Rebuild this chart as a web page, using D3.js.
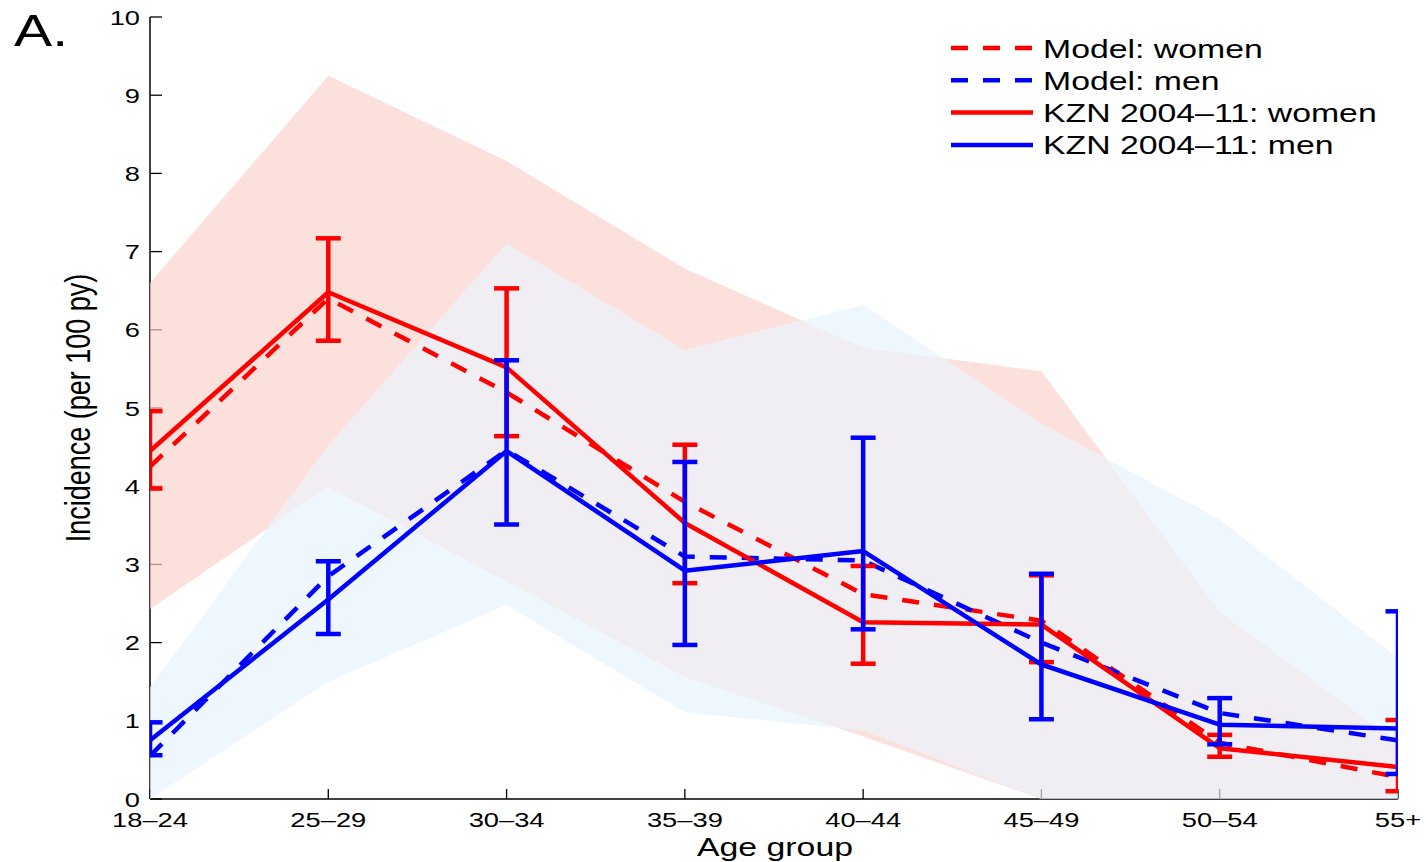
<!DOCTYPE html>
<html>
<head>
<meta charset="utf-8">
<script src="https://cdn.jsdelivr.net/npm/d3@7"></script>
<style>
  html, body { margin: 0; padding: 0; background: #fff; }
  svg { display: block; }
  text { font-family: "Liberation Sans", Arial, Helvetica, sans-serif; fill: #000; }
</style>
</head>
<body>
<svg id="chart" width="1426" height="862"></svg>
<script>
// ---------- data ----------
const categories = ["18–24","25–29","30–34","35–39","40–44","45–49","50–54","55+"];
const yTicks = [0,1,2,3,4,5,6,7,8,9,10];

// model uncertainty bands
const womenBandUpper = [6.6, 9.25, 8.16, 6.78, 5.77, 5.47, 2.39, 0.72];
const womenBandLower = [2.43, 3.99, 2.78, 1.56, 0.8, 0, 0, 0];
const menBandUpper   = [1.43, 4.52, 7.1, 5.74, 6.32, 4.8, 3.57, 1.8];
const menBandLower   = [0, 1.5, 2.48, 1.11, 0.88, 0, 0, 0];

// model central estimates
const modelWomen = [4.25, 6.4, 5.2, 3.8, 2.62, 2.28, 0.72, 0.28];
const modelMen   = [0.55, 2.85, 4.46, 3.1, 3.05, 2.0, 1.1, 0.75];

// KZN 2004-11 data with confidence intervals
const kznWomen      = [4.45, 6.48, 5.52, 3.53, 2.26, 2.23, 0.65, 0.41];
const kznWomenLow   = [3.97, 5.86, 4.64, 2.76, 1.73, 1.75, 0.54, 0.1];
const kznWomenHigh  = [4.96, 7.17, 6.53, 4.53, 2.98, 2.86, 0.82, 1.01];
const kznMen        = [0.75, 2.55, 4.45, 2.92, 3.17, 1.72, 0.95, 0.9];
const kznMenLow     = [0.56, 2.11, 3.51, 1.97, 2.17, 1.02, 0.7, 0.32];
const kznMenHigh    = [0.98, 3.04, 5.61, 4.31, 4.62, 2.88, 1.29, 2.4];

const legendItems = [
  {label: "Model: women", color: "#ff0000", dashed: true},
  {label: "Model: men", color: "#0000ff", dashed: true},
  {label: "KZN 2004–11: women", color: "#ff0000", dashed: false},
  {label: "KZN 2004–11: men", color: "#0000ff", dashed: false}
];

// ---------- layout ----------
const svg = d3.select("#chart");
const pLeft = 150, pRight = 1398, pTop = 17, pBottom = 799;
const SX = 1.3; // horizontal text stretch

const x = d3.scalePoint().domain(categories).range([pLeft, pRight]);
const y = d3.scaleLinear().domain([0, 10]).range([pBottom, pTop]);

function stext(g, tx, ty, str, size, anchor, extra) {
  return g.append("text")
    .attr("transform", `translate(${tx},${ty}) scale(${SX},1)` + (extra || ""))
    .attr("font-size", size)
    .attr("text-anchor", anchor)
    .text(str);
}

const defs = svg.append("defs");
defs.append("clipPath").attr("id", "plotClip")
  .append("rect").attr("x", pLeft).attr("y", 0).attr("width", pRight - pLeft).attr("height", pBottom);

// ---------- axes (drawn under translucent fills) ----------
const axes = svg.append("g");
axes.append("line").attr("x1", pLeft).attr("x2", pLeft).attr("y1", pTop).attr("y2", pBottom)
  .attr("stroke", "#000").attr("stroke-width", 1.5);
axes.append("line").attr("x1", pLeft).attr("x2", pRight).attr("y1", pBottom).attr("y2", pBottom)
  .attr("stroke", "#000").attr("stroke-width", 1.5);
yTicks.forEach(v => {
  axes.append("line").attr("x1", pLeft).attr("x2", pLeft + 12).attr("y1", y(v)).attr("y2", y(v))
    .attr("stroke", "#000").attr("stroke-width", 1.3);
  stext(axes, pLeft - 10, y(v) + 7.5, String(v), 21, "end");
});
categories.forEach(c => {
  axes.append("line").attr("x1", x(c)).attr("x2", x(c)).attr("y1", pBottom).attr("y2", pBottom - 10)
    .attr("stroke", "#000").attr("stroke-width", 1.3);
  stext(axes, x(c), 827, c, 21, "middle");
});

// ---------- bands ----------
const areaW = d3.area().x((d, i) => x(categories[i])).y0((d, i) => y(womenBandLower[i])).y1(d => y(d));
const areaM = d3.area().x((d, i) => x(categories[i])).y0((d, i) => y(menBandLower[i])).y1(d => y(d));

defs.append("clipPath").attr("id", "womenClip")
  .append("path").attr("d", areaW(womenBandUpper));

const bands = svg.append("g").attr("opacity", 0.7);
bands.append("path").attr("d", areaW(womenBandUpper)).attr("fill", "#fcd3ce");
bands.append("path").attr("d", areaM(menBandUpper)).attr("fill", "#e8f3fe");
bands.append("path").attr("d", areaM(menBandUpper)).attr("fill", "#ece8ef")
  .attr("clip-path", "url(#womenClip)");

// ---------- lines ----------
const plot = svg.append("g").attr("clip-path", "url(#plotClip)");
const line = d3.line().x((d, i) => x(categories[i])).y(d => y(d));

function drawLine(vals, color, dashed) {
  plot.append("path").attr("d", line(vals)).attr("fill", "none")
    .attr("stroke", color).attr("stroke-width", 4.5)
    .attr("stroke-dasharray", dashed ? "17,15" : null)
    .attr("stroke-linejoin", "round");
}
function drawErr(lo, hi, color) {
  categories.forEach((c, i) => {
    const cx = x(c);
    plot.append("line").attr("x1", cx).attr("x2", cx).attr("y1", y(lo[i])).attr("y2", y(hi[i]))
      .attr("stroke", color).attr("stroke-width", 4.5);
    [lo[i], hi[i]].forEach(v => {
      plot.append("line").attr("x1", cx - 12.5).attr("x2", cx + 12.5).attr("y1", y(v)).attr("y2", y(v))
        .attr("stroke", color).attr("stroke-width", 4.5);
    });
  });
}

drawLine(modelWomen, "#ff0000", true);
drawLine(modelMen, "#0000ff", true);
drawLine(kznWomen, "#ff0000", false);
drawErr(kznWomenLow, kznWomenHigh, "#ff0000");
drawLine(kznMen, "#0000ff", false);
drawErr(kznMenLow, kznMenHigh, "#0000ff");

// ---------- legend ----------
const lg = svg.append("g");
legendItems.forEach((it, i) => {
  const ly = 48 + i * 32.3;
  lg.append("line").attr("x1", 951).attr("x2", 1033).attr("y1", ly).attr("y2", ly)
    .attr("stroke", it.color).attr("stroke-width", 4.5)
    .attr("stroke-dasharray", it.dashed ? "17,15" : null);
  stext(lg, 1043, ly + 9.5, it.label, 26, "start");
});

// ---------- titles ----------
stext(svg, 775, 856, "Age group", 26, "middle");
svg.append("text")
  .attr("transform", `translate(90,408) scale(${SX},1) rotate(-90)`)
  .attr("font-size", 27).attr("text-anchor", "middle")
  .text("Incidence (per 100 py)");
stext(svg, 14, 46, "A.", 44, "start");
</script>
</body>
</html>
